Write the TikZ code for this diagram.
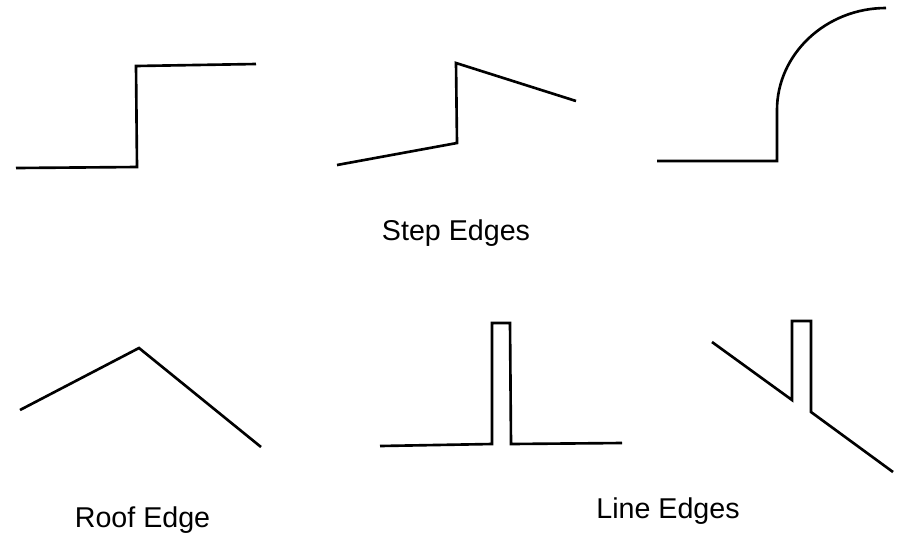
\documentclass[tikz,border=0pt]{standalone}
\usepackage{fontspec}
\setmainfont{Liberation Sans}
\usepackage{tikz}

\begin{document}
\begin{tikzpicture}[x=0.02cm,y=-0.02cm,
      edg/.style={line width=1.5pt,line join=miter,line cap=butt},
      lbl/.style={anchor=base,inner sep=0pt,font=\fontsize{16.3}{19}\selectfont}]
    \useasboundingbox (0,0) rectangle (899,532);
    \draw[edg] (16,168) -- (137,167) -- (136,66) -- (256,64);
    \draw[edg] (337,165) -- (457,143) -- (456,63) -- (576,101);
    \draw[edg] (657,161) -- (777,161) -- (777,110) .. controls (777,54) and (826,8) .. (886,8);
    \node[lbl] (stepedges) at (456,240) {Step Edges};
    \draw[edg] (20,410) -- (139,348) -- (261,447);
    \draw[edg] (380,446) -- (492,444) -- (492,323) -- (510,323) -- (511,444) -- (622,443);
    \draw[edg] (712,342) -- (792,400) -- (792,321) -- (811,321) -- (811,412) -- (893,472);
    \node[lbl] (roofedge) at (142.5,527) {Roof Edge};
    \node[lbl] (lineedges) at (668,518) {Line Edges};
  \end{tikzpicture}
\end{document}
